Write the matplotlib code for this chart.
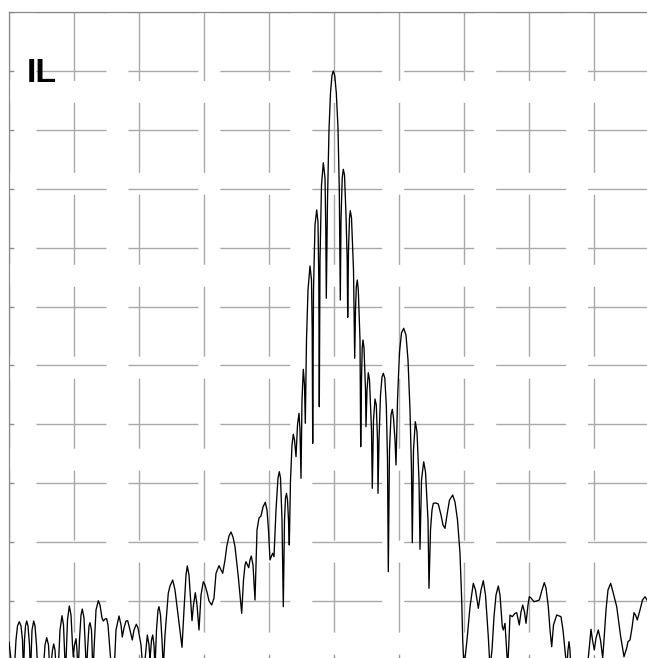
import numpy as np
import matplotlib
matplotlib.use("Agg")
import matplotlib.pyplot as plt

# ==========================================
# Data
# freq: horizontal position, 65 units per division (10 divisions)
# level: vertical position, 0 at bottom edge, 11 divisions over 648 units
# ==========================================
freq = [
    0, 2, 5, 7, 8.5, 10.3, 12, 13.5, 14.5, 15.5, 16.5, 17.7, 19, 20.5, 21.5,
    23, 24.7, 26, 27.5, 29, 34, 36, 37.7, 39.5, 41, 43.5, 44.7, 46, 47.5,
    49, 51, 53, 54.5, 56.5, 58.5, 60.3, 62, 63.5, 64.3, 65.5, 67, 68, 69,
    70.5, 72, 73.3, 75, 76.5, 77.5, 78.5, 80, 81, 82.5, 84, 85, 87, 89.3,
    91, 93, 94.3, 96, 97.7, 99, 101, 102.7, 105, 107, 110, 112, 113.3, 115,
    117, 118.7, 120.5, 123.3, 125, 127.3, 129, 132, 134.3, 136, 138.3, 140,
    141, 142.5, 143.7, 145, 146, 147.5, 149, 150, 151.5, 153, 154.3, 156,
    159.3, 161, 163.7, 166, 169.3, 173, 175, 177, 178.3, 180, 182, 183,
    184.5, 186.3, 188, 190, 192, 194.3, 196, 198.3, 200, 202.7, 205, 207,
    210, 213.7, 216, 217.7, 220, 222, 224, 226, 229.3, 232.7, 234.5, 236,
    237, 239.7, 241, 242.3, 244, 246, 248, 250, 252, 254, 256.3, 258, 259.5,
    261, 262.5, 263.7, 265, 267, 269, 270.3, 271.5, 273, 274.3, 275.5,
    276.5, 277.5, 278.5, 279.5, 280.3, 281.5, 283, 284.3, 285.5, 287, 288.5,
    290, 291, 292, 293, 294.3, 295.5, 296.3, 297.5, 299, 301, 302.5, 303.2,
    303.7, 304.5, 306, 307.7, 309, 309.8, 310.3, 311, 312.5, 314.3, 316,
    316.8, 317.3, 318.5, 320, 321.5, 323, 324.3, 325.8, 327.3, 329, 330.3,
    331.3, 332, 333.2, 334.3, 335.5, 337, 338.2, 338.7, 339.5, 340.5, 341.3,
    342.5, 344.5, 345.7, 346.5, 347.3, 348.3, 349.3, 351, 351.7, 352.5,
    353.2, 354, 355, 356.5, 357, 358, 359.3, 360.5, 362.5, 363.3, 364.5,
    366, 367.3, 368.5, 369, 370, 371.5, 373, 374.3, 375.8, 377.3, 378.5,
    379.3, 380.5, 382, 383.3, 384.5, 386, 387, 388.5, 390.5, 392.5, 394.7,
    397, 399, 401, 402.5, 403.3, 404.5, 406.3, 408, 410, 411, 412.5, 414.7,
    416.5, 419, 420, 421.5, 423, 424.3, 427, 429.3, 432, 434, 436, 438,
    440.5, 443.7, 446, 448.5, 451, 452.7, 453.7, 455, 458, 461, 464.3,
    466.5, 469.3, 472, 474.3, 476.5, 479.3, 481, 483, 485, 487, 489.3, 491,
    493.3, 494.3, 496, 498.7, 500, 501, 503.3, 506, 507.7, 510.3, 512,
    513.7, 515.5, 517, 519, 520.3, 522, 525, 527.5, 530.3, 533, 535.3, 537,
    539.3, 541, 542.7, 544.5, 547.7, 552, 554, 556, 557.7, 559, 560, 561,
    561.7, 563, 578, 579.3, 582, 583.5, 585.3, 587, 589.3, 591.5, 593.7,
    595, 597, 599, 601.7, 604, 607.7, 611.7, 615, 617.7, 619, 621, 623, 625,
    626.5, 628.3, 631, 633.5, 636, 638, 641,
]
level = [
    18, 0, -15, 20, 34, 38.3, 34, 20, -15, 20, 34, 39, 34, 15, -15,
    30, 39, 34, 15, -15, -15, 15, 22.3, 15, -15, 10, 16, 10, -15,
    -15, 30, 44.3, 35, -15, 40, 54, 45, 15, 3, 15, 21.3, 10, -15,
    20, 45, 51, 42, 10, -15, 10, 34, 37.3, 30, -15, 10, 50, 59.3,
    55, 42, 39, 41, 41.3, 35, 10, -15, -15, 30, 44, 35, 23, 32,
    39, 39.3, 32, 20, 30, 35.7, 32, 15, -15, 0, 25, 15,
    0, 20, 25, 15, -8, 30, 50, 53.3, 45, 20, -8, 25,
    67, 74, 80, 70, 43, 12.7, 50, 85, 94, 85, 55, 39.3,
    55, 67.3, 55, 30, 65, 78.3, 75, 66.7, 59, 55, 62, 86.7,
    94.3, 86.7, 100, 113.3, 124, 128, 123, 113.3, 83.3, 46.7, 80, 95,
    98.3, 92.3, 100, 104, 95, 60, 130, 142, 144, 153, 157.7, 150, 130,
    100, 104, 106.7, 103.3, 150, 182, 188.3, 182, 140, 53.3, 140,
    162, 166.7, 160, 140, 115, 180, 215, 225.7, 220, 203.3, 235,
    246.7, 230, 181.7, 260, 290.7, 275, 236.7, 320, 370, 394, 380, 330,
    216.7, 370, 435, 450, 438, 380, 253.3, 400, 475, 497.3, 482,
    430, 361.7, 460, 530, 567, 585, 589, 584, 567, 532, 470,
    360, 440, 482, 490.7, 485, 445, 400, 342.7, 410, 442, 449.3,
    442, 390, 301.7, 350, 373, 380, 370, 320, 213.3, 280,
    312, 320, 312, 270, 233.3, 270, 287.3, 280, 230, 171.7, 240,
    261, 255, 220, 166.7, 220, 265, 283, 286.7, 282, 255, 200,
    88.3, 210, 245, 250.7, 242, 220, 195, 260, 308, 327, 331.7,
    325, 300, 250, 190, 117.3, 210, 238.3, 228, 180, 110.7, 180, 198.3,
    188, 140, 71.7, 130, 150, 156.7, 157, 156, 145, 135, 131.7, 145,
    160, 165, 158, 140, 106.7, 60, 20, -8, 20, 53.3, 76.7,
    70, 51.7, 70, 79.3, 65, 23.3, -8, 10, 43.3, 65, 74, 65,
    33.3, 30, 36.7, -8, 20, 45, 43.3, 46.7, 47.3, 35, 48,
    55, 48, 36.7, 55, 63.3, 62, 58.3, 59, 60, 70, 77.3, 72,
    53.3, 30, 13.3, 35, 45, 43.3, 30, 10, -8, 10, 18.3, 10,
    -8, -20, -20, 2, 30.7, 20, 10, 22, 30, 20, 2,
    20, 50, 70, 76.7, 68, 53.3, 23.3, 3.3, 12, 18.3, 20, 32, 47.3,
    45, 40, 50, 60, 63.3, 60, 55,
]

X_DIVS = 10
Y_DIVS = 11
X_SPAN = 650
Y_SPAN = 648

GRID_COLOR = "#a9a9a9"
FRAME_COLOR = "#8a8a8a"

# ==========================================
# Figure
# ==========================================
plt.rcParams["lines.scale_dashes"] = False

fig = plt.figure(figsize=(6.47, 6.58), dpi=100)
# axes run past the right and bottom edge of the picture (cropped screen)
ax = fig.add_axes([9 / 647, -2 / 658, 650 / 647, 648 / 658])

ax.plot(freq, level, color="black", linewidth=0.95, zorder=3)

ax.set_xlim(0, X_SPAN)
ax.set_ylim(0, Y_SPAN)
ax.set_xticks(np.linspace(0, X_SPAN, X_DIVS + 1))
ax.set_yticks(np.linspace(0, Y_SPAN, Y_DIVS + 1))
ax.tick_params(direction="in", length=2.8, width=0.8, color=FRAME_COLOR,
               labelbottom=False, labelleft=False)

# long-dash graticule
dash = (46.8, (50.4, 15.8))
ax.grid(True, color=GRID_COLOR, linewidth=1.0, linestyle=dash)
ax.set_axisbelow(True)

for side in ["top", "left", "right", "bottom"]:
    ax.spines[side].set_color(FRAME_COLOR)
    ax.spines[side].set_linewidth(0.9)

ax.text(0.028, 0.892, "IL", transform=ax.transAxes, fontsize=24.5,
        fontweight="bold", family="Liberation Sans", va="baseline", ha="left",
        color="black")

fig.savefig("out.png", dpi=100)
